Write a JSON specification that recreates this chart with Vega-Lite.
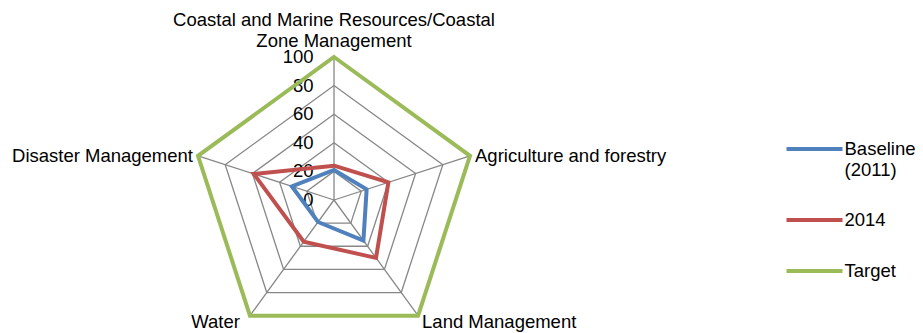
{
  "$schema": "https://vega.github.io/schema/vega-lite/v6.json",
  "width": 923,
  "height": 333,
  "padding": 0,
  "autosize": {"type": "none"},
  "background": "white",
  "config": {
    "view": {"stroke": null},
    "font": "Liberation Sans",
    "text": {"font": "Liberation Sans", "fontSize": 18.5, "fill": "#000000"}
  },
  "datasets": {
    "scores": [
      {"series": "Baseline (2011)", "axis": "Coastal and Marine Resources/Coastal Zone Management", "value": 21},
      {"series": "Baseline (2011)", "axis": "Agriculture and forestry", "value": 24},
      {"series": "Baseline (2011)", "axis": "Land Management", "value": 35},
      {"series": "Baseline (2011)", "axis": "Water", "value": 19},
      {"series": "Baseline (2011)", "axis": "Disaster Management", "value": 31},
      {"series": "2014", "axis": "Coastal and Marine Resources/Coastal Zone Management", "value": 24},
      {"series": "2014", "axis": "Agriculture and forestry", "value": 40},
      {"series": "2014", "axis": "Land Management", "value": 50},
      {"series": "2014", "axis": "Water", "value": 36},
      {"series": "2014", "axis": "Disaster Management", "value": 59},
      {"series": "Target", "axis": "Coastal and Marine Resources/Coastal Zone Management", "value": 100},
      {"series": "Target", "axis": "Agriculture and forestry", "value": 100},
      {"series": "Target", "axis": "Land Management", "value": 100},
      {"series": "Target", "axis": "Water", "value": 100},
      {"series": "Target", "axis": "Disaster Management", "value": 100}
    ],
    "axes": [
      {"axis": "Coastal and Marine Resources/Coastal Zone Management", "label": "Coastal and Marine Resources/Coastal\nZone Management"},
      {"axis": "Agriculture and forestry", "label": "Agriculture and forestry"},
      {"axis": "Land Management", "label": "Land Management"},
      {"axis": "Water", "label": "Water"},
      {"axis": "Disaster Management", "label": "Disaster Management"}
    ],
    "grid": [
      {"level": 20, "axis": "Coastal and Marine Resources/Coastal Zone Management"},
      {"level": 20, "axis": "Agriculture and forestry"},
      {"level": 20, "axis": "Land Management"},
      {"level": 20, "axis": "Water"},
      {"level": 20, "axis": "Disaster Management"},
      {"level": 40, "axis": "Coastal and Marine Resources/Coastal Zone Management"},
      {"level": 40, "axis": "Agriculture and forestry"},
      {"level": 40, "axis": "Land Management"},
      {"level": 40, "axis": "Water"},
      {"level": 40, "axis": "Disaster Management"},
      {"level": 60, "axis": "Coastal and Marine Resources/Coastal Zone Management"},
      {"level": 60, "axis": "Agriculture and forestry"},
      {"level": 60, "axis": "Land Management"},
      {"level": 60, "axis": "Water"},
      {"level": 60, "axis": "Disaster Management"},
      {"level": 80, "axis": "Coastal and Marine Resources/Coastal Zone Management"},
      {"level": 80, "axis": "Agriculture and forestry"},
      {"level": 80, "axis": "Land Management"},
      {"level": 80, "axis": "Water"},
      {"level": 80, "axis": "Disaster Management"},
      {"level": 100, "axis": "Coastal and Marine Resources/Coastal Zone Management"},
      {"level": 100, "axis": "Agriculture and forestry"},
      {"level": 100, "axis": "Land Management"},
      {"level": 100, "axis": "Water"},
      {"level": 100, "axis": "Disaster Management"}
    ],
    "ticks": [
      {"level": 0}, {"level": 20}, {"level": 40}, {"level": 60}, {"level": 80}, {"level": 100}
    ]
  },
  "encoding": {
    "x": {"field": "px", "type": "quantitative", "scale": {"domain": [-233.57, 411.89], "nice": false, "zero": false}, "axis": null},
    "y": {"field": "py", "type": "quantitative", "scale": {"domain": [-93.01, 139.86], "nice": false, "zero": false}, "axis": null}
  },
  "layer": [
    {
      "data": {"name": "grid"},
      "transform": [
        {"calculate": "indexof(['Coastal and Marine Resources/Coastal Zone Management','Agriculture and forestry','Land Management','Water','Disaster Management'], datum.axis)", "as": "i"},
        {"calculate": "datum.level * sin(2 * PI * datum.i / 5)", "as": "px"},
        {"calculate": "datum.level * cos(2 * PI * datum.i / 5)", "as": "py"}
      ],
      "mark": {"type": "line", "interpolate": "linear-closed", "stroke": "#878787", "strokeWidth": 1.3},
      "encoding": {
        "detail": {"field": "level", "type": "nominal"},
        "order": {"field": "i", "type": "quantitative"}
      }
    },
    {
      "data": {"name": "axes"},
      "transform": [
        {"calculate": "indexof(['Coastal and Marine Resources/Coastal Zone Management','Agriculture and forestry','Land Management','Water','Disaster Management'], datum.axis)", "as": "i"},
        {"calculate": "100 * sin(2 * PI * datum.i / 5)", "as": "px"},
        {"calculate": "100 * cos(2 * PI * datum.i / 5)", "as": "py"}
      ],
      "mark": {"type": "rule", "stroke": "#878787", "strokeWidth": 1.3},
      "encoding": {
        "x2": {"datum": 0},
        "y2": {"datum": 0}
      }
    },
    {
      "data": {"name": "ticks"},
      "transform": [
        {"calculate": "0", "as": "px"},
        {"calculate": "datum.level", "as": "py"}
      ],
      "mark": {"type": "text", "align": "right", "baseline": "middle", "dx": -20.5, "fontSize": 18.5},
      "encoding": {
        "text": {"field": "level", "type": "quantitative"}
      }
    },
    {
      "data": {"name": "scores"},
      "transform": [
        {"calculate": "indexof(['Coastal and Marine Resources/Coastal Zone Management','Agriculture and forestry','Land Management','Water','Disaster Management'], datum.axis)", "as": "i"},
        {"calculate": "datum.value * sin(2 * PI * datum.i / 5)", "as": "px"},
        {"calculate": "datum.value * cos(2 * PI * datum.i / 5)", "as": "py"}
      ],
      "mark": {"type": "line", "interpolate": "linear-closed", "strokeJoin": "miter"},
      "encoding": {
        "color": {
          "field": "series",
          "type": "nominal",
          "sort": ["Baseline (2011)", "2014", "Target"],
          "scale": {"domain": ["Baseline (2011)", "2014", "Target"], "range": ["#4F81BD", "#C0504D", "#9BBB59"]},
          "legend": {
            "orient": "none",
            "legendX": 784.5,
            "legendY": 119,
            "title": null,
            "symbolType": "stroke",
            "symbolSize": 3136,
            "symbolStrokeWidth": 4,
            "labelFont": "Liberation Sans",
            "labelFontSize": 18.5,
            "labelColor": "#000000",
            "labelOffset": 0,
            "labelLimit": 300,
            "rowPadding": 11,
            "labelExpr": "datum.label == 'Baseline (2011)' ? ['Baseline', '(2011)'] : datum.label"
          }
        },
        "strokeWidth": {
          "field": "series",
          "type": "nominal",
          "scale": {"domain": ["Baseline (2011)", "2014", "Target"], "range": [4, 4, 5]},
          "legend": null
        },
        "order": {"field": "i", "type": "quantitative"}
      }
    },
    {
      "data": {"name": "axes"},
      "transform": [
        {"filter": "datum.axis == 'Coastal and Marine Resources/Coastal Zone Management'"},
        {"calculate": "0", "as": "px"},
        {"calculate": "100", "as": "py"}
      ],
      "mark": {"type": "text", "align": "center", "baseline": "bottom", "dy": -26.5, "lineBreak": "\n", "lineHeight": 20.5},
      "encoding": {"text": {"field": "label", "type": "nominal"}}
    },
    {
      "data": {"name": "axes"},
      "transform": [
        {"filter": "datum.axis == 'Agriculture and forestry'"},
        {"calculate": "100 * sin(2 * PI / 5)", "as": "px"},
        {"calculate": "100 * cos(2 * PI / 5)", "as": "py"}
      ],
      "mark": {"type": "text", "align": "left", "baseline": "middle", "dx": 5, "dy": 0},
      "encoding": {"text": {"field": "label", "type": "nominal"}}
    },
    {
      "data": {"name": "axes"},
      "transform": [
        {"filter": "datum.axis == 'Land Management'"},
        {"calculate": "100 * sin(4 * PI / 5)", "as": "px"},
        {"calculate": "100 * cos(4 * PI / 5)", "as": "py"}
      ],
      "mark": {"type": "text", "align": "left", "baseline": "top", "dx": 4, "dy": -3},
      "encoding": {"text": {"field": "label", "type": "nominal"}}
    },
    {
      "data": {"name": "axes"},
      "transform": [
        {"filter": "datum.axis == 'Water'"},
        {"calculate": "100 * sin(6 * PI / 5)", "as": "px"},
        {"calculate": "100 * cos(6 * PI / 5)", "as": "py"}
      ],
      "mark": {"type": "text", "align": "right", "baseline": "top", "dx": -10, "dy": -3},
      "encoding": {"text": {"field": "label", "type": "nominal"}}
    },
    {
      "data": {"name": "axes"},
      "transform": [
        {"filter": "datum.axis == 'Disaster Management'"},
        {"calculate": "100 * sin(8 * PI / 5)", "as": "px"},
        {"calculate": "100 * cos(8 * PI / 5)", "as": "py"}
      ],
      "mark": {"type": "text", "align": "right", "baseline": "middle", "dx": -5, "dy": 0},
      "encoding": {"text": {"field": "label", "type": "nominal"}}
    }
  ]
}
